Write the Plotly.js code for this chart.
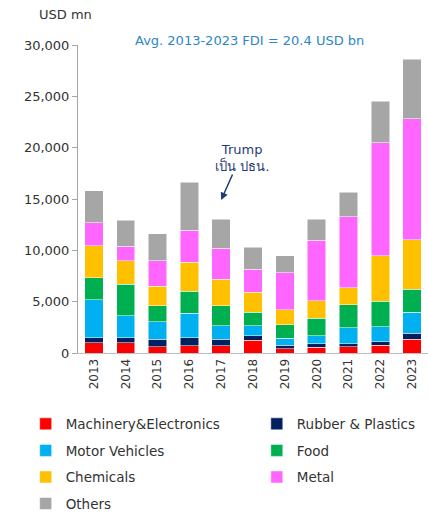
<!DOCTYPE html>
<html><head><meta charset="utf-8">
<script src="https://cdn.plot.ly/plotly-3.0.1.min.js"></script>
<style>html,body{margin:0;padding:0;background:#fff}#c{width:428px;height:512px}</style>
</head><body><div id="c"></div>
<script>
const years = ["2013","2014","2015","2016","2017","2018","2019","2020","2021","2022","2023"];
const machinery = [1000, 990, 630, 730, 730, 1240, 410, 560, 630, 760, 1340];
const rubber    = [480, 480, 710, 740, 610, 460, 350, 330, 260, 360, 580];
const motor     = [3720, 2170, 1690, 2390, 1330, 940, 680, 810, 1560, 1450, 2040];
const food      = [2140, 3070, 1550, 2140, 1910, 1320, 1330, 1680, 2230, 2460, 2270];
const chemicals = [3110, 2300, 1910, 2850, 2620, 1940, 1450, 1690, 1680, 4440, 4790];
const metal     = [2260, 1400, 2490, 3110, 2980, 2240, 3600, 5920, 6920, 11000, 11810];
const others    = [3100, 2520, 2620, 4660, 2850, 2170, 1650, 2040, 2400, 4040, 5760];
const seriesNames = ["Machinery&Electronics","Rubber & Plastics","Motor Vehicles","Food","Chemicals","Metal","Others"];
const yTicks = [0, 5000, 10000, 15000, 20000, 25000, 30000];
const yTickText = ["0","5,000","10,000","15,000","20,000","25,000","30,000"];

const seriesData = [machinery, rubber, motor, food, chemicals, metal, others];
const colors = ["#FF0000","#002060","#00B0F0","#00B050","#FFC000","#FF66FF","#A6A6A6"];
const legendOf = ["legend","legend2","legend","legend2","legend","legend2","legend"];
const font = "Tahoma, 'DejaVu Sans', 'Noto Sans', sans-serif";

const traces = seriesData.map((d, i) => ({
  type: "bar", x: years.slice(), y: d, name: seriesNames[i],
  legend: legendOf[i], legendgroup: "g" + i,
  marker: {color: colors[i], line: {color: "#ffffff", width: 0.5}}
}));

const legendBase = {
  orientation: "v", traceorder: "grouped",
  font: {family: font, size: 13.5, color: "#333"},
  itemwidth: 30, tracegroupgap: 6, bgcolor: "rgba(0,0,0,0)",
  xref: "container", yref: "container", xanchor: "left", yanchor: "top"
};

const layout = {
  width: 428, height: 512,
  margin: {l: 78, r: 0, t: 45, b: 159, autoexpand: false},
  barmode: "stack", bargap: 0.42,
  paper_bgcolor: "#fff", plot_bgcolor: "#fff",
  font: {family: font, size: 13, color: "#333"},
  showlegend: true,
  legend: Object.assign({}, legendBase, {x: 0.06, y: 0.202}),
  legend2: Object.assign({}, legendBase, {x: 0.6, y: 0.202}),
  xaxis: {
    type: "category", tickangle: -90, automargin: false,
    showline: true, linecolor: "#BFBFBF", linewidth: 1,
    ticks: "", showgrid: false,
    tickfont: {family: font, size: 12, color: "#333"}
  },
  yaxis: {
    range: [0, 30000], tickvals: yTicks, ticktext: yTickText, automargin: false,
    showline: true, linecolor: "#A6A6A6", linewidth: 1,
    ticks: "outside", ticklen: 5, tickcolor: "#A6A6A6",
    showgrid: false, zeroline: false,
    tickfont: {family: font, size: 13, color: "#333"}
  },
  annotations: [
    {xref: "paper", yref: "paper", x: -0.118, y: 1.1, xanchor: "left", yanchor: "middle",
     text: "USD mn", showarrow: false, font: {family: font, size: 13, color: "#333"}},
    {xref: "paper", yref: "paper", x: 0.49, y: 1.015, xanchor: "center", yanchor: "middle",
     text: "Avg. 2013-2023 FDI = 20.4 USD bn", showarrow: false,
     font: {family: font, size: 13, color: "#2E86C8"}},
    {xref: "x", yref: "y", x: 4, y: 14900, ax: 12, ay: -27,
     text: "", showarrow: true, arrowhead: 2, arrowsize: 1, arrowwidth: 1.5,
     arrowcolor: "#1F3B73"},
    {xref: "x", yref: "y", x: 4, y: 17200, xshift: 21, xanchor: "center", yanchor: "bottom",
     text: "Trump<br>เป็น ปธน.", showarrow: false,
     font: {family: font, size: 13, color: "#1F3B73"}}
  ]
};

Plotly.newPlot("c", traces, layout, {displayModeBar: false, staticPlot: true});
</script></body></html>
